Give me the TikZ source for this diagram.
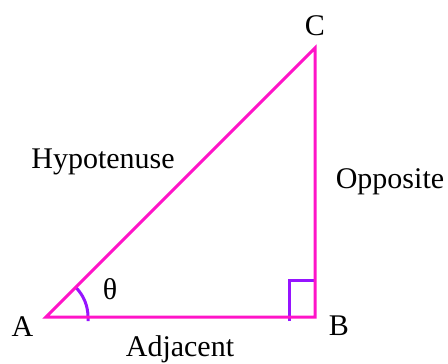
\documentclass[tikz,border=0pt]{standalone}
\usepackage{fontspec}
\setmainfont{Liberation Serif}
\definecolor{sidecol}{RGB}{255,20,200}
\definecolor{markcol}{RGB}{150,20,255}
\begin{document}
\begin{tikzpicture}[x=1pt,y=-1pt,
  sideline/.style={color=sidecol,line width=3pt},
  markline/.style={color=markcol,line width=3pt},
  lbl/.style={inner sep=0pt,anchor=base,font=\fontsize{30}{34}\selectfont}]
\useasboundingbox (0,0) rectangle (448,364);
\coordinate (A) at (46,317);
\coordinate (B) at (315,317);
\coordinate (C) at (315,48);
\draw[markline] (289,321) -- (289,280) -- (315,280);
\draw[markline] (88,321) -- (88,317) arc[start angle=0,end angle=-45,radius=42];
\draw[sideline,line join=miter] (A) -- (B) -- (C) -- cycle;
\node[lbl] (la) at (22.5,336) {A};
\node[lbl] (lb) at (339,335) {B};
\node[lbl] (lc) at (315,35) {C};
\node[lbl] (lt) at (110,299) {θ};
\node[lbl] (lh) at (103,168) {Hypotenuse};
\node[lbl] (lo) at (390,188) {Opposite};
\node[lbl] (ld) at (180,356) {Adjacent};
\end{tikzpicture}
\end{document}
